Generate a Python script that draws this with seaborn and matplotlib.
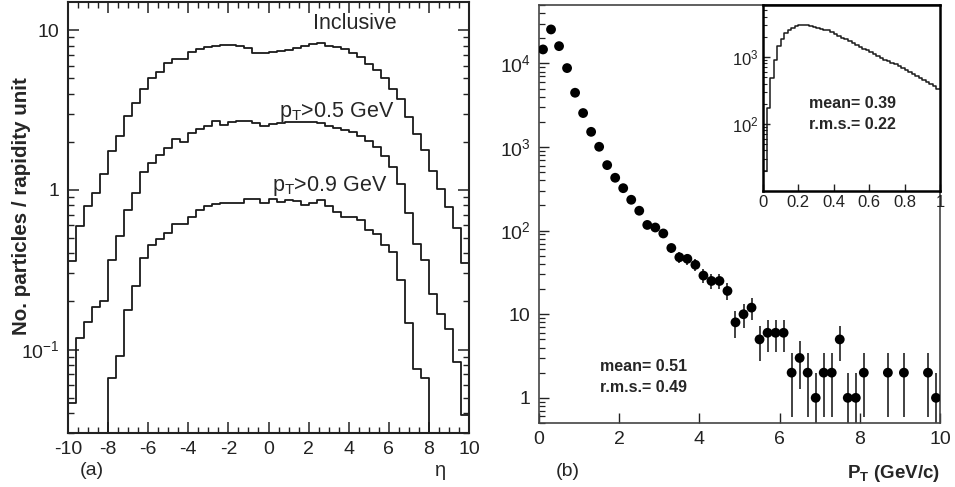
import numpy as np
import pandas as pd
import matplotlib
matplotlib.use("Agg")
import matplotlib.pyplot as plt
import seaborn as sns
from matplotlib.ticker import FixedLocator, LogLocator, NullFormatter, FixedFormatter, MultipleLocator

# ---------------- data ----------------
# (a) pseudorapidity distributions, 50 bins of 0.4 from -10 to 10
eta_edges = np.linspace(-10, 10, 51)
inclusive = [0.356, 0.596, 0.787, 0.96, 1.26, 1.76, 2.18, 2.9, 3.51, 4.26,
             5.01, 5.46, 6.25, 6.56, 6.62, 7.29, 7.64, 7.79, 7.98, 8.06,
             8.06, 8.0, 7.72, 7.22, 7.14, 7.29, 7.36, 7.5, 7.72, 7.94,
             8.18, 8.25, 7.94, 7.79, 7.57, 7.14, 6.74, 6.13, 5.62, 5.01,
             4.3, 3.72, 2.84, 2.24, 1.78, 1.31, 1.01, 0.78, 0.573, 0.35]
pt_gt05 = [0.0464, 0.118, 0.148, 0.185, 0.2, 0.365, 0.516, 0.75, 0.95, 1.30,
           1.47, 1.65, 1.82, 2.07, 2.0, 2.26, 2.42, 2.51, 2.69, 2.53,
           2.66, 2.69, 2.69, 2.62, 2.51, 2.58, 2.62, 2.64, 2.64, 2.64,
           2.64, 2.62, 2.51, 2.45, 2.37, 2.3, 2.18, 2.02, 1.85, 1.62,
           1.38, 1.08, 0.72, 0.46, 0.363, 0.222, 0.166, 0.135, 0.083, 0.039]
pt_gt09 = [0, 0, 0, 0, 0, 0.0665, 0.0917, 0.178, 0.251, 0.374,
           0.449, 0.49, 0.535, 0.61, 0.61, 0.68, 0.75, 0.787, 0.82, 0.83,
           0.83, 0.83, 0.87, 0.87, 0.83, 0.87, 0.84, 0.86, 0.85, 0.80,
           0.83, 0.86, 0.787, 0.724, 0.675, 0.68, 0.643, 0.562, 0.526, 0.449,
           0.406, 0.274, 0.147, 0.075, 0.066, 0, 0, 0, 0, 0]

# (b) transverse momentum spectrum, 50 bins of 0.2 GeV/c
pt_edges = np.linspace(0, 10, 51)
pt_counts = [14700, 25500, 16100, 8800, 4460, 2550, 1520, 1007, 608, 429,
             322, 234, 173, 117, 109, 92.5, 62, 48, 46, 39,
             29, 25, 25, 19, 8, 10, 12, 5, 6, 6,
             6, 2, 3, 2, 1, 2, 2, 5, 1, 1,
             2, 0, 0, 2, 0, 2, 0, 0, 2, 1]

# inset: low pT region, 50 bins of 0.02 GeV/c
fine_edges = np.linspace(0, 1, 51)
fine_counts = [20, 174, 490, 891, 1445, 1884, 2291, 2570, 2754, 2884,
               2985, 3020, 3020, 2917, 2818, 2692, 2630, 2570, 2512, 2399,
               2239, 2089, 1950, 1862, 1738, 1622, 1514, 1413, 1334, 1259,
               1189, 1122, 1047, 977, 912, 871, 822, 776, 724, 676,
               631, 589, 550, 513, 479, 447, 417, 389, 363, 335]

# ---------------- style ----------------
sns.set_theme(style="ticks")
plt.rcParams['font.family'] = ['Liberation Sans', 'DejaVu Sans']
plt.rcParams['axes.unicode_minus'] = False
plt.rcParams['mathtext.fontset'] = 'custom'
plt.rcParams['mathtext.rm'] = 'Liberation Sans'
plt.rcParams['mathtext.it'] = 'Liberation Sans:italic'
plt.rcParams['mathtext.bf'] = 'Liberation Sans:bold'

LC = '#1a1a1a'

fig = plt.figure(figsize=(9.55, 4.87), dpi=100)
axL = fig.add_axes([68/955, 1-433/487, 401/955, 431/487])
axR = fig.add_axes([539/955, 1-423/487, 401/955, 418/487])
axI = fig.add_axes([763/955, 1-190.7/487, 177/955, 185.7/487])


def step_hist(ax, edges, vals, lw):
    centers = 0.5*(edges[1:] + edges[:-1])
    d = pd.DataFrame({'x': centers, 'w': np.asarray(vals, dtype=float)})
    sns.histplot(data=d, x='x', weights='w', bins=list(edges), element='step',
                 fill=False, color=LC, linewidth=lw, ax=ax)


# ---------------- (a) ----------------
for vals in (inclusive, pt_gt05, pt_gt09):
    step_hist(axL, eta_edges, vals, 1.3)
axL.set_yscale('log')
axL.set_xlim(-10, 10)
axL.set_ylim(0.03, 15)
axL.xaxis.set_major_locator(FixedLocator(np.arange(-10, 11, 2)))
axL.xaxis.set_minor_locator(MultipleLocator(0.5))
axL.yaxis.set_major_locator(FixedLocator([0.1, 1, 10]))
axL.yaxis.set_major_formatter(FixedFormatter([r'$\mathregular{10^{-1}}$', '1', '10']))
axL.yaxis.set_minor_locator(LogLocator(base=10, subs=np.arange(2, 10)))
axL.yaxis.set_minor_formatter(NullFormatter())
axL.tick_params(which='both', direction='in', top=True, right=True, colors='#222222',
                labelsize=14, pad=6)
axL.tick_params(which='major', length=8, width=1.1)
axL.tick_params(which='minor', length=4, width=1.0)
for s in axL.spines.values():
    s.set_linewidth(1.5)
    s.set_color('#222222')
axL.set_xlabel('')
axL.set_ylabel('No. particles / rapidity unit', fontsize=14.8, fontweight='bold')
axL.yaxis.set_label_coords(-0.092, 0.527)
axL.text(0.611, 0.95, 'Inclusive', transform=axL.transAxes, fontsize=15.5, va='center', ha='left')
axL.text(0.526, 0.744, r'p$_{\mathregular{T}}$>0.5 GeV', transform=axL.transAxes, fontsize=15.5,
         va='center', ha='left')
axL.text(0.509, 0.573, r'p$_{\mathregular{T}}$>0.9 GeV', transform=axL.transAxes, fontsize=15.5,
         va='center', ha='left')
axL.text(0.06, -0.086, '(a)', transform=axL.transAxes, fontsize=14, va='center', ha='center')
axL.text(0.928, -0.086, 'η', transform=axL.transAxes, fontsize=14.5, va='center', ha='center')

# ---------------- (b) ----------------
pt_centers = 0.5*(pt_edges[1:] + pt_edges[:-1])
dfb = pd.DataFrame({'pt': pt_centers, 'n': np.asarray(pt_counts, dtype=float)})
dfb = dfb[dfb['n'] > 0]
axR.errorbar(dfb['pt'], dfb['n'], yerr=np.sqrt(dfb['n']), fmt='none', ecolor='#333333',
             elinewidth=1.3, capsize=0, zorder=2)
sns.scatterplot(data=dfb, x='pt', y='n', color='black', s=50, edgecolor='none', ax=axR, zorder=3)
axR.set_yscale('log')
axR.set_xlim(0, 10)
axR.set_ylim(0.5, 5.0e4)
axR.xaxis.set_major_locator(FixedLocator(np.arange(0, 11, 2)))
axR.yaxis.set_major_locator(FixedLocator([1, 10, 100, 1000, 10000]))
axR.yaxis.set_major_formatter(FixedFormatter(['1', '10', r'$\mathregular{10^{2}}$',
                                              r'$\mathregular{10^{3}}$', r'$\mathregular{10^{4}}$']))
axR.yaxis.set_minor_locator(LogLocator(base=10, subs=np.arange(2, 10)))
axR.yaxis.set_minor_formatter(NullFormatter())
axR.tick_params(which='both', direction='in', colors='#222222', labelsize=14, pad=6)
axR.tick_params(which='major', length=7, width=1.0)
axR.tick_params(which='minor', length=4, width=0.9)
for s in axR.spines.values():
    s.set_linewidth(1.2)
    s.set_color('#444444')
axR.set_xlabel('')
axR.set_ylabel('')
axR.text(0.152, 0.136, 'mean= 0.51', transform=axR.transAxes, fontsize=11.5,
         fontweight='bold', va='center', ha='left')
axR.text(0.152, 0.086, 'r.m.s.= 0.49', transform=axR.transAxes, fontsize=11.5,
         fontweight='bold', va='center', ha='left')
axR.text(0.072, -0.115, '(b)', transform=axR.transAxes, fontsize=14, va='center', ha='center')
axR.text(1.0, -0.12, r'P$_{\mathregular{\mathbf{T}}}$ (GeV/c)', transform=axR.transAxes,
         fontsize=13.5, fontweight='bold', va='center', ha='right')

# ---------------- inset ----------------
step_hist(axI, fine_edges, fine_counts, 1.1)
axI.set_yscale('log')
axI.set_xlim(0, 1)
axI.set_ylim(10, 6000)
axI.xaxis.set_major_locator(FixedLocator([0, 0.2, 0.4, 0.6, 0.8, 1.0]))
axI.xaxis.set_major_formatter(FixedFormatter(['0', '0.2', '0.4', '0.6', '0.8', '1']))
axI.yaxis.set_major_locator(FixedLocator([100, 1000]))
axI.yaxis.set_major_formatter(FixedFormatter([r'$\mathregular{10^{2}}$', r'$\mathregular{10^{3}}$']))
axI.yaxis.set_minor_locator(LogLocator(base=10, subs=np.arange(2, 10)))
axI.yaxis.set_minor_formatter(NullFormatter())
axI.tick_params(which='both', direction='in', colors='#222222', labelsize=12, pad=3)
axI.tick_params(which='major', length=5, width=1.0)
axI.tick_params(which='minor', length=3, width=0.8)
for s in axI.spines.values():
    s.set_linewidth(1.8)
    s.set_color('black')
axI.set_xlabel('')
axI.set_ylabel('')
axI.text(0.261, 0.467, 'mean= 0.39', transform=axI.transAxes, fontsize=11.5,
         fontweight='bold', va='center', ha='left')
axI.text(0.261, 0.359, 'r.m.s.= 0.22', transform=axI.transAxes, fontsize=11.5,
         fontweight='bold', va='center', ha='left')

fig.savefig('out.png', dpi=100)
